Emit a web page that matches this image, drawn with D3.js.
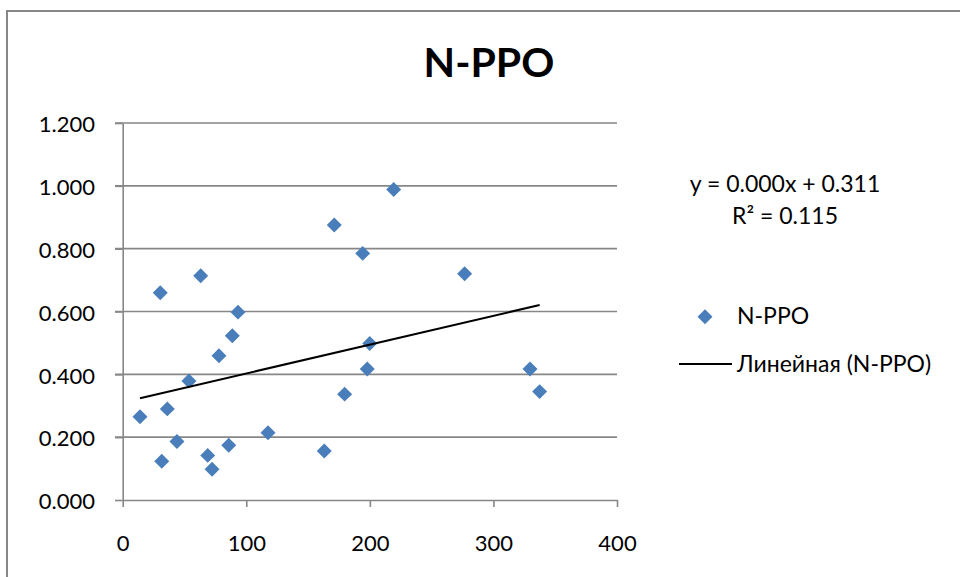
<!DOCTYPE html>
<html>
<head>
<meta charset="utf-8">
<script src="https://cdn.jsdelivr.net/npm/d3@7"></script>
<style>
  html, body { margin: 0; padding: 0; background: #fff; }
  svg { display: block; }
  text { font-family: Lato, "Open Sans", "Liberation Sans", sans-serif; fill: #000; }
</style>
</head>
<body>
<svg id="chart" width="960" height="577"></svg>
<script>
// ---- data ----
const chartTitle = "N-PPO";
const seriesName = "N-PPO";
const trendName = "Линейная (N-PPO)";
const xValues = [14.0, 30.4, 31.6, 36.1, 43.9, 53.6, 63.1, 68.8, 72.3, 77.9, 85.8, 88.7, 93.3,
                 117.6, 163.1, 171.2, 179.6, 194.2, 197.9, 199.9, 219.3, 276.7, 329.6, 337.4];
const yValues = [0.265, 0.660, 0.123, 0.290, 0.186, 0.379, 0.714, 0.142, 0.098, 0.459, 0.174, 0.523, 0.598,
                 0.214, 0.156, 0.875, 0.337, 0.785, 0.417, 0.498, 0.988, 0.720, 0.417, 0.345];
const trendSlope = 0.000918;
const trendIntercept = 0.311;
const equationLines = ["y = 0.000x + 0.311", "R² = 0.115"];
const xTicks = [0, 100, 200, 300, 400];
const yTicks = [0, 0.2, 0.4, 0.6, 0.8, 1.0, 1.2];

// ---- layout ----
const svg = d3.select("#chart");
const gray = "#878787";
const blue = "#4a7ebb";
const x = d3.scaleLinear().domain([0, 400]).range([122.7, 617]);
const y = d3.scaleLinear().domain([0, 1.2]).range([500, 123]);

// outer border
svg.append("rect").attr("x", 7).attr("y", 11).attr("width", 1000).attr("height", 1000)
  .attr("fill", "none").attr("stroke", gray).attr("stroke-width", 2);

// title
svg.append("text").attr("x", 489).attr("y", 77).attr("text-anchor", "middle")
  .attr("font-size", 41).attr("font-weight", "bold").text(chartTitle);

// gridlines
svg.append("g").selectAll("line").data(yTicks.slice(1)).join("line")
  .attr("x1", 115).attr("x2", 617).attr("y1", d => y(d)).attr("y2", d => y(d))
  .attr("stroke", gray).attr("stroke-width", 1.6);

// y axis
const yAxis = svg.append("g").attr("transform", `translate(${x(0)},0)`)
  .call(d3.axisLeft(y).tickValues(yTicks).tickFormat(d3.format(".3f")).tickSizeInner(7.7).tickSizeOuter(0).tickPadding(20));
yAxis.select(".domain").attr("stroke", gray).attr("stroke-width", 1.6);
yAxis.selectAll(".tick line").attr("stroke", gray).attr("stroke-width", 1.6);
yAxis.selectAll(".tick text").attr("font-size", 22).attr("dy", "0.4em")
  .attr("font-family", "Lato, 'Open Sans', sans-serif").attr("fill", "#000");

// x axis
const xAxis = svg.append("g").attr("transform", `translate(0,${y(0)})`)
  .call(d3.axisBottom(x).tickValues(xTicks).tickFormat(d3.format("d")).tickSizeInner(7).tickSizeOuter(0).tickPadding(28));
xAxis.select(".domain").attr("stroke", gray).attr("stroke-width", 1.6);
xAxis.selectAll(".tick line").attr("stroke", gray).attr("stroke-width", 1.6);
xAxis.selectAll(".tick text").attr("font-size", 22)
  .attr("font-family", "Lato, 'Open Sans', sans-serif").attr("fill", "#000");

// points
const diamond = d3.symbol().type(d3.symbolSquare).size(112);
const pts = xValues.map((v, i) => ({x: v, y: yValues[i]}));
svg.append("g").selectAll("path").data(pts).join("path")
  .attr("d", diamond())
  .attr("transform", d => `translate(${x(d.x)},${y(d.y)}) rotate(45)`)
  .attr("fill", blue);

// trendline
const xMin = d3.min(xValues), xMax = d3.max(xValues);
svg.append("line")
  .attr("x1", x(xMin)).attr("y1", y(trendIntercept + trendSlope * xMin))
  .attr("x2", x(xMax)).attr("y2", y(trendIntercept + trendSlope * xMax))
  .attr("stroke", "#000").attr("stroke-width", 2);

// equation
svg.append("g").selectAll("text").data(equationLines).join("text")
  .attr("x", 785).attr("y", (d, i) => 192 + i * 32).attr("text-anchor", "middle")
  .attr("font-size", 23).text(d => d);

// legend
const leg = svg.append("g");
leg.append("path").attr("d", diamond()).attr("transform", "translate(705,316.7) rotate(45)").attr("fill", blue);
leg.append("text").attr("x", 737).attr("y", 324).attr("font-size", 23).text(seriesName);
leg.append("line").attr("x1", 679).attr("x2", 732).attr("y1", 364).attr("y2", 364)
  .attr("stroke", "#000").attr("stroke-width", 2);
leg.append("text").attr("x", 737).attr("y", 372).attr("font-size", 23).text(trendName);
</script>
</body>
</html>
